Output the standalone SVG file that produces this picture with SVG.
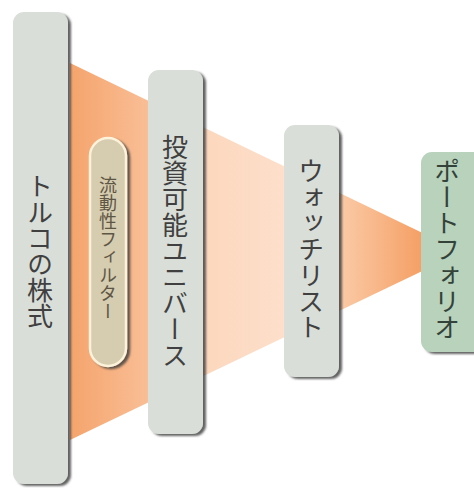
<svg xmlns="http://www.w3.org/2000/svg" width="474" height="488" viewBox="0 0 474 488">
<defs>
<linearGradient id="funnel" gradientUnits="userSpaceOnUse" x1="70" y1="0" x2="462" y2="0">
<stop offset="0" stop-color="#F5A46C"/>
<stop offset="0.2" stop-color="#F9BE96"/>
<stop offset="0.34" stop-color="#FCD7BD"/>
<stop offset="0.55" stop-color="#FDDFCB"/>
<stop offset="0.7" stop-color="#FAC8A3"/>
<stop offset="0.9" stop-color="#F59F64"/>
<stop offset="1" stop-color="#F59F64"/>
</linearGradient>
<filter id="sh" x="-20%" y="-10%" width="150%" height="130%">
<feDropShadow dx="3" dy="2" stdDeviation="1" flood-color="#3a3a3a" flood-opacity="0.8"/>
</filter>
</defs>
<style>
.bar{fill:#D9DED8;filter:url(#sh)}
.bar4{fill:#B8D2BC;filter:url(#sh)}
.pill{fill:#D6CCB0;stroke:#FDF2DA;stroke-width:2.5;filter:url(#sh)}
.t{font-family:"Noto Sans CJK JP","Noto Sans",sans-serif;writing-mode:vertical-rl;fill:#404040;font-size:26px}
.ts{font-size:18px;fill:#5e5644}
.t4{fill:#34433a}
</style>
<polygon id="funnel-shape" points="70,63 462,252 70,440" fill="url(#funnel)"/>
<g id="connectors"></g>
<g id="n1"><rect class="bar" x="13" y="12" width="55" height="472" rx="11"/><text class="t" x="40" y="173">トルコの株式</text></g>
<g id="n-filter"><rect class="pill" x="90" y="138" width="36" height="228" rx="18"/><text class="t ts" x="108" y="176">流動性フィルター</text></g>
<g id="n2"><rect class="bar" x="148" y="70" width="55" height="364" rx="11"/><text class="t" x="175" y="134">投資可能ユニバース</text></g>
<g id="n3"><rect class="bar" x="284" y="125" width="55" height="252" rx="11"/><text class="t" x="311" y="158">ウォッチリスト</text></g>
<g id="n4"><rect class="bar4" x="421" y="152" width="64" height="200" rx="11"/><text class="t t4" x="447" y="158">ポートフォリオ</text></g>
</svg>
